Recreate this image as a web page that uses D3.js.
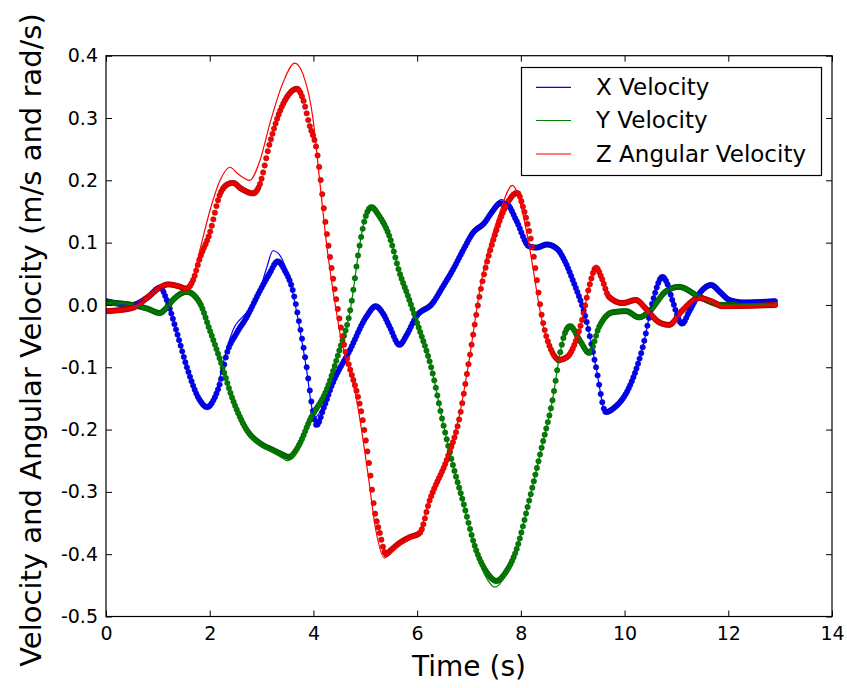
<!DOCTYPE html>
<html>
<head>
<meta charset="utf-8">
<script src="https://cdn.jsdelivr.net/npm/d3@7"></script>
<style>
  body { margin: 0; background: #fff; }
  text { font-family: "DejaVu Sans", sans-serif; fill: #000; }
</style>
</head>
<body>
<svg id="chart" width="847" height="688"></svg>
<script>
// Axis ticks
const xTicks = [0, 2, 4, 6, 8, 10, 12, 14];
const yTicks = [-0.5, -0.4, -0.3, -0.2, -0.1, 0.0, 0.1, 0.2, 0.3, 0.4];

// Series labels and colours
const seriesNames = ["X Velocity", "Y Velocity", "Z Angular Velocity"];
const seriesColors = ["#0000ff", "#008000", "#ff0000"];

// X velocity: [time (s), value]
const xVelCommand = [[0,0.006],[0.5,0.0],[0.8,0.012],[1.05,0.028],[1.17,0.008],[1.37,-0.045],[1.56,-0.1],[1.81,-0.152],[1.95,-0.162],[2.1,-0.145],[2.2,-0.115],[2.33,-0.07],[2.45,-0.04],[2.71,-0.012],[2.97,0.025],[3.1,0.06],[3.22,0.087],[3.35,0.08],[3.48,0.056],[3.6,0.02],[3.75,-0.045],[3.87,-0.105],[3.97,-0.165],[4.03,-0.18],[4.2,-0.16],[4.37,-0.125],[4.7,-0.073],[5.02,-0.019],[5.2,-0.002],[5.35,-0.015],[5.47,-0.035],[5.66,-0.064],[5.8,-0.048],[5.98,-0.019],[6.3,0.003],[6.5,0.03],[6.68,0.055],[6.9,0.09],[7.07,0.115],[7.3,0.135],[7.45,0.155],[7.62,0.169],[7.75,0.162],[7.91,0.136],[8.16,0.094],[8.3,0.092],[8.5,0.097],[8.7,0.09],[8.85,0.07],[9.0,0.04],[9.26,-0.024],[9.45,-0.1],[9.64,-0.174],[9.8,-0.165],[10.09,-0.132],[10.35,-0.068],[10.55,0.008],[10.73,0.045],[10.82,0.035],[10.92,0.008],[11.11,-0.03],[11.25,-0.01],[11.44,0.018],[11.67,0.032],[11.85,0.02],[12.02,0.008],[12.3,0.004],[12.9,0.006]];
const xVelMeasured = [[0,0.006],[0.5,0.0],[0.8,0.012],[1.05,0.028],[1.17,0.008],[1.37,-0.045],[1.56,-0.1],[1.81,-0.153],[1.95,-0.164],[2.1,-0.148],[2.2,-0.125],[2.33,-0.078],[2.52,-0.045],[2.71,-0.02],[2.97,0.023],[3.15,0.05],[3.31,0.07],[3.45,0.055],[3.6,0.024],[3.75,-0.04],[3.87,-0.1],[3.97,-0.16],[4.06,-0.193],[4.2,-0.165],[4.37,-0.126],[4.7,-0.073],[5.02,-0.019],[5.2,-0.002],[5.35,-0.015],[5.47,-0.035],[5.66,-0.064],[5.8,-0.048],[5.98,-0.019],[6.3,0.003],[6.5,0.03],[6.68,0.055],[6.9,0.09],[7.07,0.115],[7.3,0.132],[7.45,0.15],[7.6,0.163],[7.75,0.16],[7.91,0.136],[8.16,0.094],[8.3,0.092],[8.5,0.097],[8.7,0.09],[8.85,0.07],[9.0,0.04],[9.26,-0.024],[9.45,-0.1],[9.64,-0.172],[9.8,-0.165],[10.09,-0.132],[10.35,-0.068],[10.55,0.008],[10.73,0.045],[10.82,0.035],[10.92,0.008],[11.11,-0.03],[11.25,-0.01],[11.44,0.018],[11.67,0.032],[11.85,0.02],[12.02,0.008],[12.3,0.004],[12.9,0.006]];

// Y velocity
const yVelCommand = [[0,0.004],[0.5,0.0],[0.8,-0.006],[1.04,-0.013],[1.15,-0.006],[1.29,0.008],[1.56,0.021],[1.81,0.003],[2.0,-0.04],[2.2,-0.088],[2.45,-0.153],[2.71,-0.202],[2.97,-0.225],[3.2,-0.236],[3.35,-0.243],[3.5,-0.25],[3.65,-0.24],[3.74,-0.225],[3.93,-0.185],[4.25,-0.137],[4.5,-0.073],[4.7,-0.013],[4.9,0.1],[5.0,0.142],[5.1,0.16],[5.25,0.147],[5.47,0.109],[5.66,0.052],[5.82,0.015],[5.98,-0.024],[6.3,-0.11],[6.5,-0.19],[6.7,-0.26],[6.88,-0.316],[7.14,-0.398],[7.35,-0.44],[7.5,-0.453],[7.7,-0.435],[7.91,-0.394],[8.16,-0.314],[8.42,-0.222],[8.61,-0.153],[8.75,-0.08],[8.85,-0.045],[8.95,-0.034],[9.13,-0.056],[9.32,-0.077],[9.51,-0.035],[9.76,-0.012],[10.03,-0.01],[10.28,-0.02],[10.48,-0.01],[10.8,0.022],[11.05,0.029],[11.44,0.013],[11.88,0.0],[12.9,0.0]];
const yVelMeasured = [[0,0.004],[0.5,0.0],[0.8,-0.006],[1.04,-0.013],[1.15,-0.006],[1.29,0.008],[1.56,0.021],[1.81,0.003],[2.0,-0.04],[2.2,-0.088],[2.45,-0.153],[2.71,-0.2],[2.97,-0.222],[3.2,-0.232],[3.35,-0.238],[3.54,-0.244],[3.65,-0.235],[3.74,-0.222],[3.93,-0.185],[4.25,-0.137],[4.5,-0.073],[4.7,-0.013],[4.9,0.1],[5.0,0.14],[5.12,0.157],[5.25,0.145],[5.47,0.109],[5.66,0.052],[5.82,0.015],[5.98,-0.024],[6.3,-0.11],[6.5,-0.19],[6.7,-0.26],[6.88,-0.314],[7.14,-0.394],[7.35,-0.43],[7.53,-0.443],[7.7,-0.43],[7.91,-0.394],[8.16,-0.314],[8.42,-0.222],[8.61,-0.153],[8.75,-0.08],[8.85,-0.045],[8.95,-0.034],[9.13,-0.056],[9.32,-0.077],[9.51,-0.035],[9.76,-0.012],[10.03,-0.01],[10.28,-0.02],[10.48,-0.01],[10.8,0.022],[11.05,0.029],[11.44,0.013],[11.88,0.0],[12.9,0.0]];

// Z angular velocity
const zAngCommand = [[0,-0.01],[0.5,-0.005],[0.8,0.012],[1.04,0.028],[1.2,0.033],[1.4,0.03],[1.55,0.027],[1.68,0.045],[1.81,0.088],[2.0,0.15],[2.2,0.2],[2.39,0.221],[2.55,0.21],[2.77,0.2],[2.97,0.232],[3.16,0.291],[3.41,0.356],[3.64,0.388],[3.8,0.37],[3.99,0.3],[4.12,0.2],[4.25,0.1],[4.5,-0.04],[4.85,-0.16],[5.05,-0.27],[5.2,-0.36],[5.37,-0.406],[5.5,-0.397],[5.66,-0.386],[5.85,-0.376],[6.05,-0.364],[6.24,-0.31],[6.59,-0.242],[6.82,-0.175],[7.0,-0.09],[7.2,0.02],[7.6,0.15],[7.84,0.192],[8.0,0.16],[8.15,0.1],[8.42,-0.03],[8.6,-0.078],[8.74,-0.09],[8.9,-0.083],[9.05,-0.06],[9.18,-0.024],[9.32,0.03],[9.45,0.062],[9.55,0.047],[9.7,0.013],[9.96,0.003],[10.22,0.008],[10.4,-0.005],[10.67,-0.028],[10.86,-0.032],[11.1,-0.01],[11.44,0.011],[11.7,0.005],[11.88,-0.002],[12.9,0.0]];
const zAngMeasured = [[0,-0.01],[0.5,-0.005],[0.8,0.012],[1.04,0.028],[1.2,0.033],[1.4,0.03],[1.55,0.026],[1.68,0.04],[1.81,0.075],[2.0,0.115],[2.2,0.178],[2.35,0.194],[2.45,0.196],[2.6,0.187],[2.84,0.179],[2.95,0.19],[3.16,0.26],[3.35,0.31],[3.5,0.335],[3.68,0.347],[3.8,0.33],[3.92,0.29],[4.06,0.25],[4.25,0.12],[4.57,-0.055],[4.96,-0.19],[5.08,-0.26],[5.18,-0.33],[5.28,-0.366],[5.4,-0.4],[5.5,-0.393],[5.66,-0.382],[5.85,-0.373],[6.05,-0.366],[6.24,-0.314],[6.59,-0.244],[6.82,-0.18],[7.0,-0.09],[7.2,0.013],[7.53,0.12],[7.75,0.165],[7.93,0.18],[8.05,0.155],[8.22,0.093],[8.42,-0.025],[8.6,-0.075],[8.74,-0.088],[8.9,-0.083],[9.05,-0.06],[9.18,-0.024],[9.32,0.03],[9.45,0.06],[9.55,0.045],[9.7,0.013],[9.96,0.003],[10.22,0.008],[10.4,-0.005],[10.67,-0.028],[10.86,-0.032],[11.1,-0.01],[11.44,0.011],[11.7,0.005],[11.88,-0.002],[12.9,0.0]];

const commands = [xVelCommand, yVelCommand, zAngCommand];
const measurements = [xVelMeasured, yVelMeasured, zAngMeasured];
const sampleStep = 0.03; // logging period of the measured signals (s)

const svg = d3.select("#chart");
const plot = { left: 106, right: 832, top: 55.7, bottom: 616.5 };

const x = d3.scaleLinear().domain([0, 14]).range([plot.left, plot.right]);
const y = d3.scaleLinear().domain([-0.5, 0.4]).range([plot.bottom, plot.top]);

const line = d3.line()
  .x(d => x(d[0]))
  .y(d => y(d[1]))
  .curve(d3.curveMonotoneX);

svg.append("clipPath").attr("id", "plotClip")
  .append("rect")
  .attr("x", plot.left).attr("y", plot.top)
  .attr("width", plot.right - plot.left).attr("height", plot.bottom - plot.top);

const marks = svg.append("g").attr("clip-path", "url(#plotClip)");

// Measured signals: drawn as '.' markers at each logged sample along the curve
measurements.forEach((series, i) => {
  const guide = marks.append("path")
    .attr("d", line(series))
    .attr("fill", "none")
    .attr("stroke", "none");
  const node = guide.node();
  const total = node.getTotalLength();
  const pts = [];
  for (let s = 0; s <= total; s += 0.5) pts.push(node.getPointAtLength(s));
  pts.push(node.getPointAtLength(total));
  const bisect = d3.bisector(p => p.x).left;
  const tEnd = series[series.length - 1][0];
  const times = d3.range(series[0][0], tEnd + 1e-9, sampleStep);
  const dots = times.map(t => {
    const px = x(t);
    const k = bisect(pts, px);
    if (k <= 0) return pts[0];
    if (k >= pts.length) return pts[pts.length - 1];
    const a = pts[k - 1], b = pts[k];
    const f = b.x === a.x ? 0 : (px - a.x) / (b.x - a.x);
    return { x: px, y: a.y + f * (b.y - a.y) };
  });
  const col = seriesColors[i];
  marks.append("g")
    .selectAll("circle")
    .data(dots)
    .join("circle")
    .attr("cx", d => d.x)
    .attr("cy", d => d.y)
    .attr("r", 2.7)
    .attr("fill", col)
    .attr("stroke", d3.color(col).darker(1.6))
    .attr("stroke-width", 0.5);
});

// Commanded signals: thin solid lines
commands.forEach((series, i) => {
  marks.append("path")
    .attr("d", line(series))
    .attr("fill", "none")
    .attr("stroke", seriesColors[i])
    .attr("stroke-width", 1.2);
});

// Axes with inward ticks on all four sides
const tickLen = 6;
const fmtY = d => d.toFixed(1);

const gLeft = svg.append("g").attr("transform", `translate(${plot.left},0)`)
  .call(d3.axisLeft(y).tickValues(yTicks).tickFormat(fmtY).tickSize(-tickLen).tickPadding(8));
const gRight = svg.append("g").attr("transform", `translate(${plot.right},0)`)
  .call(d3.axisRight(y).tickValues(yTicks).tickFormat("").tickSize(-tickLen));
const gBottom = svg.append("g").attr("transform", `translate(0,${plot.bottom})`)
  .call(d3.axisBottom(x).tickValues(xTicks).tickFormat(d3.format("d")).tickSize(-tickLen).tickPadding(10));
const gTop = svg.append("g").attr("transform", `translate(0,${plot.top})`)
  .call(d3.axisTop(x).tickValues(xTicks).tickFormat("").tickSize(-tickLen));

[gLeft, gRight, gBottom, gTop].forEach(g => {
  g.select(".domain").remove();
  g.selectAll(".tick line").attr("stroke", "#000").attr("stroke-width", 1);
  g.selectAll(".tick text").attr("font-size", 19).attr("font-family", "DejaVu Sans").attr("fill", "#000");
});

// Frame
svg.append("rect")
  .attr("x", plot.left).attr("y", plot.top)
  .attr("width", plot.right - plot.left).attr("height", plot.bottom - plot.top)
  .attr("fill", "none").attr("stroke", "#000").attr("stroke-width", 1.2);

// Axis titles
svg.append("text")
  .attr("x", (plot.left + plot.right) / 2)
  .attr("y", 676)
  .attr("text-anchor", "middle")
  .attr("font-size", 28)
  .text("Time (s)");

svg.append("text")
  .attr("transform", "translate(41,340) rotate(-90)")
  .attr("text-anchor", "middle")
  .attr("font-size", 29)
  .text("Velocity and Angular Velocity (m/s and rad/s)");

// Legend
const legend = svg.append("g");
legend.append("rect")
  .attr("x", 521.5).attr("y", 67.5)
  .attr("width", 300).attr("height", 108)
  .attr("fill", "#fff").attr("stroke", "#000").attr("stroke-width", 1.2);
const rowY = [87.3, 120.5, 154];
seriesNames.forEach((name, i) => {
  legend.append("line")
    .attr("x1", 536).attr("x2", 571)
    .attr("y1", rowY[i]).attr("y2", rowY[i])
    .attr("stroke", seriesColors[i]).attr("stroke-width", 1.2);
  legend.append("text")
    .attr("x", 596).attr("y", rowY[i] + 7.8)
    .attr("font-size", 23)
    .text(name);
});
</script>
</body>
</html>
